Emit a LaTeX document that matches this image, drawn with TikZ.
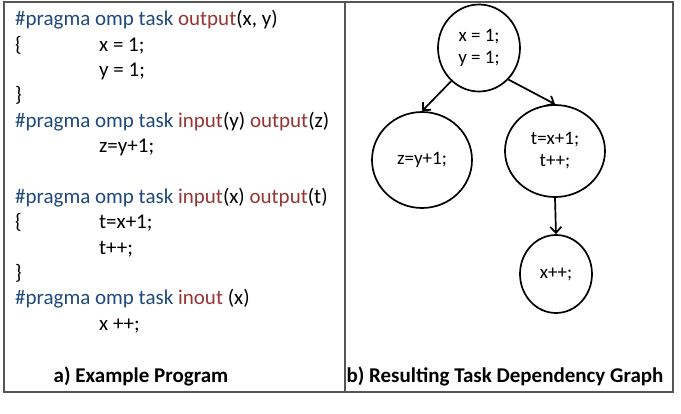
\documentclass[tikz,border=0pt]{standalone}
\usepackage{fontspec}
\setmainfont{Carlito}
\usetikzlibrary{shapes.geometric,arrows.meta}
\definecolor{kwblue}{HTML}{1F497D}
\definecolor{kwred}{HTML}{943634}
\definecolor{frame}{HTML}{555555}
\tikzset{
  code/.style={anchor=base west,inner sep=0pt,font=\fontsize{21}{25}\selectfont},
  caption/.style={anchor=base,inner sep=0pt,font=\fontsize{21}{25}\selectfont\bfseries},
  task/.style={ellipse,draw,line width=1.7pt,inner sep=0pt,align=center,font=\fontsize{19}{22}\selectfont},
  dep/.style={-{Straight Barb[length=6pt,width=11pt,line width=1.7pt]},line width=1.7pt},
  panel/.style={draw=frame,line width=1.3pt}
}
\newcommand{\kw}[1]{\textcolor{kwblue}{#1}}
\newcommand{\cl}[1]{\textcolor{kwred}{#1}}
\begin{document}
\begin{tikzpicture}[x=1pt,y=-1pt]
\useasboundingbox (0,0) rectangle (681,413);
\draw[panel] (4,2) rectangle (345,392);
\draw[panel] (345,2) rectangle (673,392);
% code
\node[code] (l1) at (15,25.5) {\kw{\#pragma omp task} \cl{output}(x, y)};
\node[code] (l2a) at (15,51) {\{};
\node[code] (l2b) at (99,51) {x = 1;};
\node[code] (l3) at (99,76.5) {y = 1;};
\node[code] (l4) at (15,101.5) {\}};
\node[code] (l5) at (15,127) {\kw{\#pragma omp task} \cl{input}(y) \cl{output}(z)};
\node[code] (l6) at (99,152) {z=y+1;};
\node[code] (l7) at (15,203) {\kw{\#pragma omp task} \cl{input}(x) \cl{output}(t)};
\node[code] (l8a) at (15,228.5) {\{};
\node[code] (l8b) at (99,228.5) {t=x+1;};
\node[code] (l9) at (99,254) {t++;};
\node[code] (l10) at (15,279) {\}};
\node[code] (l11) at (15,304.5) {\kw{\#pragma omp task} \cl{inout} (x)};
\node[code] (l12) at (99,330) {x ++;};
\node[caption] (capa) at (141,382) {a) Example Program};
\node[caption] (capb) at (505,382) {b) Resulting Task Dependency Graph};
% graph
\node[task,minimum width=82pt,minimum height=87pt] (top) at (479,48) {x = 1;\\y = 1;};
\node[task,minimum width=100pt,minimum height=96pt] (left) at (422,160) {z=y+1;};
\node[task,minimum width=100pt,minimum height=92pt] (right) at (555,151) {t=x+1;\\t++;};
\node[task,minimum width=72pt,minimum height=78pt] (xpp) at (556,274) {x++;};
\draw[dep] (top.230) -- (left.north);
\draw[dep] (top.-47) -- (right.north);
\draw[dep] (right.south) -- (xpp.north);
\end{tikzpicture}
\end{document}
